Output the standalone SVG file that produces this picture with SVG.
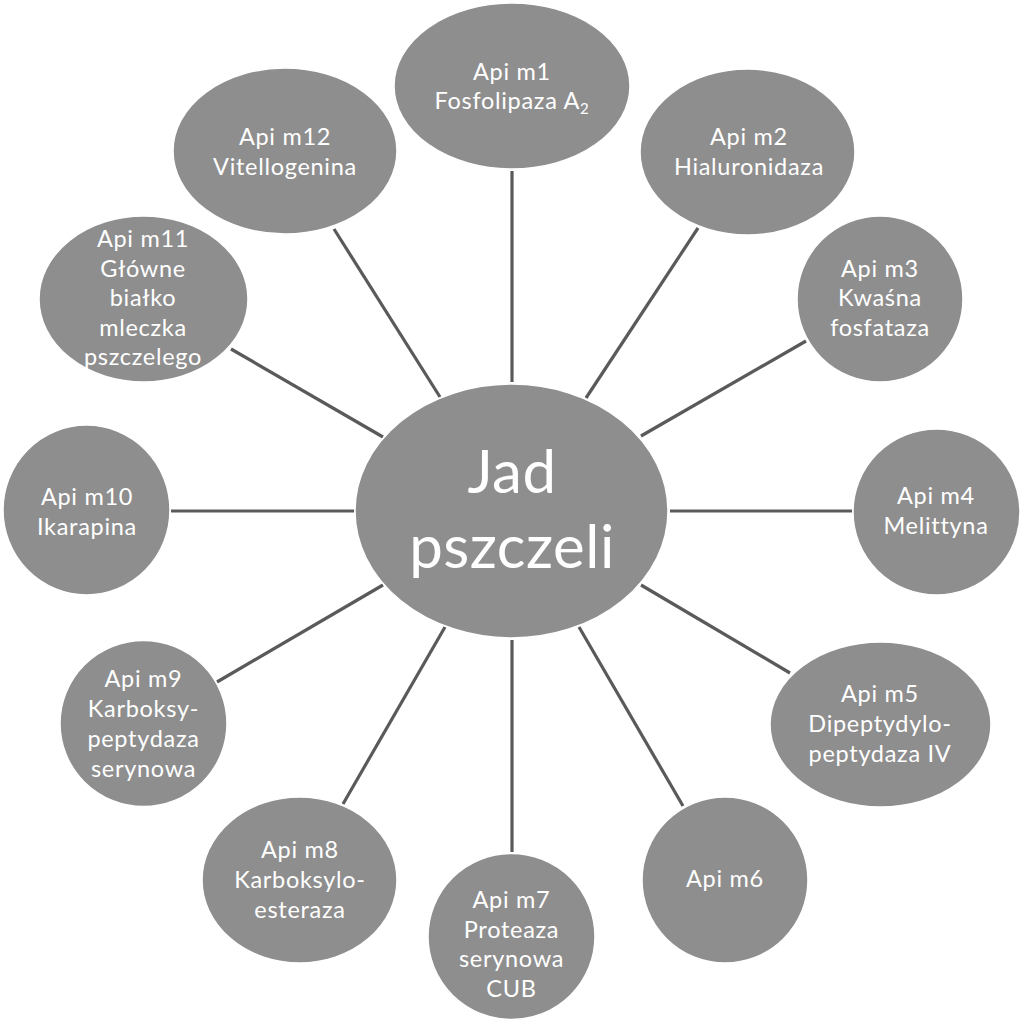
<svg xmlns="http://www.w3.org/2000/svg" width="1024" height="1024" viewBox="0 0 1024 1024">
<style>
.node ellipse{fill:#8e8e8e;stroke:#ffffff;stroke-width:1.5}
.lbl{font-family:Lato,"Liberation Sans",sans-serif;font-size:23.5px;letter-spacing:0.7px;fill:#ffffff;text-anchor:middle}
.big{font-family:Lato,"Liberation Sans",sans-serif;font-size:60px;letter-spacing:0.5px;fill:#ffffff;text-anchor:middle}
.conn line{stroke:#5a5a5a;stroke-width:3.2;stroke-linecap:butt}
</style>
<rect width="1024" height="1024" fill="#ffffff"/>
<g id="connectors" class="conn">
<line x1="512" y1="382" x2="512" y2="171"/>
<line x1="586" y1="398" x2="698" y2="228"/>
<line x1="641" y1="436" x2="806" y2="341"/>
<line x1="670" y1="511" x2="852" y2="511"/>
<line x1="641" y1="585" x2="790" y2="673"/>
<line x1="579" y1="627" x2="683" y2="806"/>
<line x1="512" y1="640" x2="512" y2="852"/>
<line x1="445" y1="627" x2="343" y2="804"/>
<line x1="383" y1="585" x2="217" y2="682"/>
<line x1="354" y1="511" x2="171" y2="511"/>
<line x1="383" y1="437" x2="231" y2="349"/>
<line x1="440" y1="397" x2="334" y2="229"/>
</g>
<g id="center" class="node">
<ellipse cx="511.5" cy="511" rx="156.5" ry="127"/>
<text class="big" x="512" y="493">Jad</text>
<text class="big" x="512" y="568">pszczeli</text>
</g>
<g id="m1" class="node">
<ellipse cx="512" cy="86" rx="118" ry="83"/>
<text class="lbl" x="512" y="80">Api m1</text>
<text class="lbl" x="512" y="109">Fosfolipaza A<tspan font-size="15" dy="5">2</tspan></text>
</g>
<g id="m2" class="node">
<ellipse cx="747.5" cy="152" rx="107.5" ry="83"/>
<text class="lbl" x="749" y="145">Api m2</text>
<text class="lbl" x="749" y="175">Hialuronidaza</text>
</g>
<g id="m3" class="node">
<ellipse cx="880" cy="299" rx="83" ry="83"/>
<text class="lbl" x="880" y="277">Api m3</text>
<text class="lbl" x="880" y="306">Kwaśna</text>
<text class="lbl" x="880" y="336">fosfataza</text>
</g>
<g id="m4" class="node">
<ellipse cx="936.5" cy="512" rx="83.5" ry="83"/>
<text class="lbl" x="936" y="504">Api m4</text>
<text class="lbl" x="936" y="534">Melittyna</text>
</g>
<g id="m5" class="node">
<ellipse cx="880.5" cy="724.5" rx="110.5" ry="82.5"/>
<text class="lbl" x="880" y="702">Api m5</text>
<text class="lbl" x="880" y="732">Dipeptydylo-</text>
<text class="lbl" x="880" y="762">peptydaza IV</text>
</g>
<g id="m6" class="node">
<ellipse cx="725" cy="880" rx="83" ry="83"/>
<text class="lbl" x="725" y="887">Api m6</text>
</g>
<g id="m7" class="node">
<ellipse cx="511.5" cy="936.5" rx="83.5" ry="83"/>
<text class="lbl" x="511.5" y="908">Api m7</text>
<text class="lbl" x="511.5" y="938">Proteaza</text>
<text class="lbl" x="511.5" y="967">serynowa</text>
<text class="lbl" x="511.5" y="997">CUB</text>
</g>
<g id="m8" class="node">
<ellipse cx="299.5" cy="880" rx="97.5" ry="83"/>
<text class="lbl" x="300" y="858">Api m8</text>
<text class="lbl" x="300" y="888">Karboksylo-</text>
<text class="lbl" x="300" y="918">esteraza</text>
</g>
<g id="m9" class="node">
<ellipse cx="143.5" cy="723.5" rx="83.5" ry="83"/>
<text class="lbl" x="143.5" y="687">Api m9</text>
<text class="lbl" x="143.5" y="717">Karboksy-</text>
<text class="lbl" x="143.5" y="747">peptydaza</text>
<text class="lbl" x="143.5" y="777">serynowa</text>
</g>
<g id="m10" class="node">
<ellipse cx="86.5" cy="510" rx="83.5" ry="85"/>
<text class="lbl" x="87" y="505">Api m10</text>
<text class="lbl" x="87" y="535">Ikarapina</text>
</g>
<g id="m11" class="node">
<ellipse cx="143.5" cy="299" rx="104.5" ry="83"/>
<text class="lbl" x="143" y="247">Api m11</text>
<text class="lbl" x="143" y="277">Główne</text>
<text class="lbl" x="143" y="306">białko</text>
<text class="lbl" x="143" y="336">mleczka</text>
<text class="lbl" x="143" y="365">pszczelego</text>
</g>
<g id="m12" class="node">
<ellipse cx="285" cy="151" rx="112" ry="83"/>
<text class="lbl" x="285" y="145">Api m12</text>
<text class="lbl" x="285" y="175">Vitellogenina</text>
</g>
</svg>
